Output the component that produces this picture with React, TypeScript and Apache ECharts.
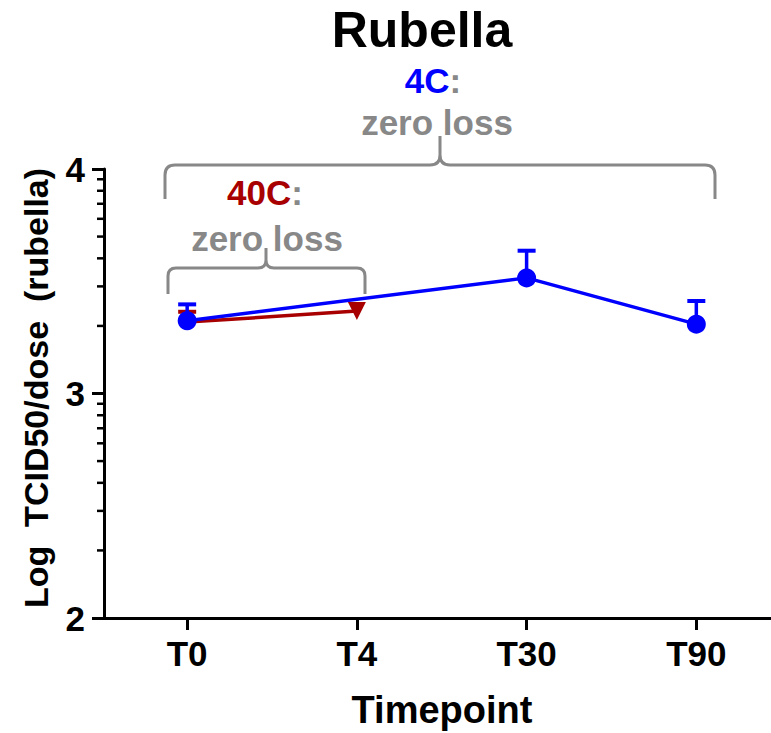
import React, { useEffect, useRef } from "react";
import * as echarts from "echarts";

// ---- data ----
const categories = ["T0", "T4", "T30", "T90"];
const catIndex = [0, 1, 2, 3];
const yTickValues = [2, 3, 4];
const decades = [2, 3];
const minorMultipliers = [2, 3, 4, 5, 6, 7, 8, 9];

// 4C (blue): no T4 measurement
const x4C = [0, 2, 3];
const mean4C = [3.324, 3.515, 3.309];
const upper4C = [3.397, 3.636, 3.412];

// 40C (dark red)
const x40C = [0, 1];
const mean40C = [3.318, 3.367];
const upper40C = [3.364, 3.367];

const X_MIN = -0.49;
const X_MAX = 3.44;
const FONT = "'Liberation Sans', Arial, sans-serif";
const BLUE = "#0000ff";
const RED = "#a80000";
const GRAY = "#888888";

const bigBrace =
  "M165,199 L165,175 Q165,165 175,165 L430,165 Q440,165 440,155 L440,136 M440,155 Q440,165 450,165 L705,165 Q715,165 715,175 L715,199";
const smallBrace =
  "M168,294 L168,276 Q168,268 176,268 L258,268 Q266,268 266,260 L266,248 M266,260 Q266,268 274,268 L357,268 Q365,268 365,276 L365,294";

echarts.graphic.registerShape("braceBig", echarts.graphic.extendPath(bigBrace, {}));
echarts.graphic.registerShape("braceSmall", echarts.graphic.extendPath(smallBrace, {}));

function errorBarSeries(xs: number[], means: number[], uppers: number[], color: string, z: number) {
  return {
    type: "custom",
    z,
    silent: true,
    clip: false,
    data: xs.map((x, i) => [x, means[i], uppers[i]]),
    encode: { x: 0, y: 1 },
    renderItem: (params: any, api: any) => {
      const x = api.value(0);
      const y = api.value(1);
      const hi = api.value(2);
      if (hi <= y) return { type: "group", children: [] };
      const p0 = api.coord([x, y]);
      const p1 = api.coord([x, hi]);
      return {
        type: "group",
        children: [
          {
            type: "line",
            shape: { x1: p0[0], y1: p0[1], x2: p1[0], y2: p1[1] },
            style: { stroke: color, lineWidth: 3.5 },
          },
          {
            type: "line",
            shape: { x1: p1[0] - 9, y1: p1[1], x2: p1[0] + 9, y2: p1[1] },
            style: { stroke: color, lineWidth: 4 },
          },
        ],
      };
    },
  };
}

export default function App() {
  const ref = useRef<HTMLDivElement>(null);
  useEffect(() => {
    if (!ref.current) return;
    const chart = echarts.init(ref.current, null, { renderer: "svg" });
    const minorTicks: number[][] = [];
    decades.forEach((d) =>
      minorMultipliers.forEach((k) => minorTicks.push([X_MIN, d + Math.log10(k)]))
    );
    chart.setOption({
      animation: false,
      backgroundColor: "#ffffff",
      grid: {
        left: 104,
        right: 0,
        top: 169,
        bottom: 115,
        containLabel: false,
        outerBoundsMode: "none",
      },
      xAxis: {
        type: "value",
        min: X_MIN,
        max: X_MAX,
        splitLine: { show: false },
        axisLine: { show: true, onZero: false, lineStyle: { color: "#000", width: 3 } },
        axisTick: {
          show: true,
          customValues: catIndex,
          length: 12,
          lineStyle: { color: "#000", width: 3 },
        },
        axisLabel: {
          customValues: catIndex,
          formatter: (v: number) => categories[Math.round(v)] ?? "",
          fontFamily: FONT,
          fontWeight: "bold",
          fontSize: 35,
          color: "#000",
          margin: 18,
        },
      },
      yAxis: {
        type: "value",
        min: 2,
        max: 4,
        interval: 1,
        splitLine: { show: false },
        axisLine: { show: true, onZero: false, lineStyle: { color: "#000", width: 3 } },
        axisTick: { show: true, length: 12, lineStyle: { color: "#000", width: 3 } },
        axisLabel: {
          customValues: yTickValues,
          fontFamily: FONT,
          fontWeight: "bold",
          fontSize: 35,
          color: "#000",
          margin: 19,
        },
      },
      series: [
        {
          type: "custom",
          silent: true,
          clip: false,
          z: 1,
          data: minorTicks,
          encode: { x: 0, y: 1 },
          renderItem: (params: any, api: any) => {
            const p = api.coord([api.value(0), api.value(1)]);
            return {
              type: "line",
              shape: { x1: p[0] - 7, y1: p[1], x2: p[0], y2: p[1] },
              style: { stroke: "#000", lineWidth: 2.5 },
            };
          },
        },
        errorBarSeries(x40C, mean40C, upper40C, RED, 2),
        {
          type: "line",
          z: 3,
          data: x40C.map((x, i) =>
            i === 0 ? { value: [x, mean40C[i]], symbol: "none" } : [x, mean40C[i]]
          ),
          symbol: "triangle",
          symbolRotate: 180,
          symbolSize: 18,
          itemStyle: { color: RED },
          lineStyle: { color: RED, width: 3.5 },
        },
        errorBarSeries(x4C, mean4C, upper4C, BLUE, 4),
        {
          type: "line",
          z: 5,
          data: x4C.map((x, i) => [x, mean4C[i]]),
          symbol: "circle",
          symbolSize: 19,
          itemStyle: { color: BLUE },
          lineStyle: { color: BLUE, width: 3.5 },
        },
      ],
      graphic: [
        {
          type: "text",
          x: 422,
          y: 30,
          style: {
            text: "Rubella",
            font: `bold 50px ${FONT}`,
            fill: "#000",
            align: "center",
            verticalAlign: "middle",
          },
        },
        {
          type: "text",
          x: 36,
          y: 388,
          rotation: Math.PI / 2,
          style: {
            text: "Log  TCID50/dose  (rubella)",
            font: `bold 34px ${FONT}`,
            fill: "#000",
            align: "center",
            verticalAlign: "middle",
          },
        },
        {
          type: "text",
          x: 442,
          y: 710,
          style: {
            text: "Timepoint",
            font: `bold 38px ${FONT}`,
            fill: "#000",
            align: "center",
            verticalAlign: "middle",
          },
        },
        {
          type: "braceBig",
          x: 0,
          y: 0,
          z: 10,
          style: { stroke: GRAY, lineWidth: 3, fill: "none" },
        },
        {
          type: "braceSmall",
          x: 0,
          y: 0,
          z: 10,
          style: { stroke: GRAY, lineWidth: 3, fill: "none" },
        },
        {
          type: "text",
          x: 433,
          y: 80,
          z: 11,
          style: {
            text: "{b|4C}{g|:}",
            align: "center",
            verticalAlign: "middle",
            rich: {
              b: { font: `bold 35px ${FONT}`, fill: BLUE },
              g: { font: `bold 35px ${FONT}`, fill: GRAY },
            },
          },
        },
        {
          type: "text",
          x: 437,
          y: 122,
          z: 11,
          style: {
            text: "zero loss",
            font: `bold 35px ${FONT}`,
            fill: GRAY,
            align: "center",
            verticalAlign: "middle",
          },
        },
        {
          type: "text",
          x: 265,
          y: 192,
          z: 11,
          style: {
            text: "{r|40C}{g|:}",
            align: "center",
            verticalAlign: "middle",
            rich: {
              r: { font: `bold 35px ${FONT}`, fill: RED },
              g: { font: `bold 35px ${FONT}`, fill: GRAY },
            },
          },
        },
        {
          type: "text",
          x: 267,
          y: 238,
          z: 11,
          style: {
            text: "zero loss",
            font: `bold 35px ${FONT}`,
            fill: GRAY,
            align: "center",
            verticalAlign: "middle",
          },
        },
      ],
    });
    return () => chart.dispose();
  }, []);
  return (
    <div
      ref={ref}
      style={{ position: "fixed", left: 0, top: 0, width: 771, height: 733, background: "#fff" }}
    />
  );
}
